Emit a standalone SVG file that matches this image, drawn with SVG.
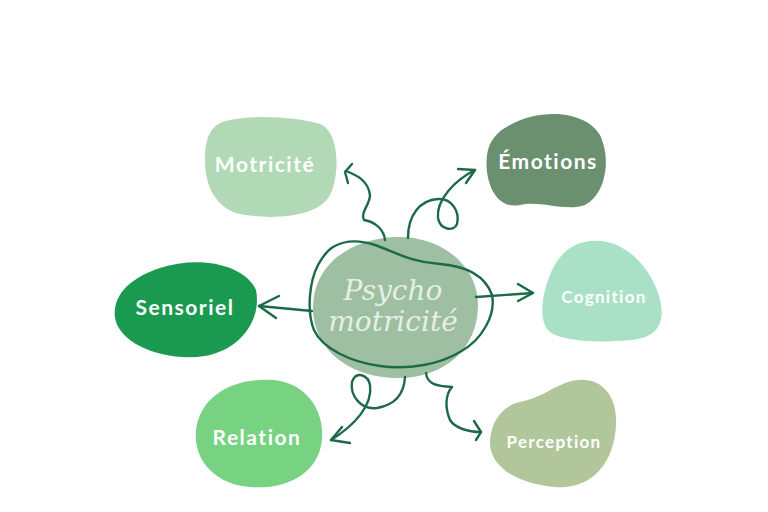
<svg xmlns="http://www.w3.org/2000/svg" width="768" height="512" viewBox="0 0 768 512">
<style>
.lbl{font-family:Lato,"Open Sans",sans-serif;font-weight:700;fill:#ffffff;text-anchor:middle;dominant-baseline:central}
.big{font-size:21px;letter-spacing:1.5px}
.sm{font-size:17px;letter-spacing:1.3px}
.ctr{font-family:"DejaVu Serif","Liberation Serif",serif;font-style:italic;font-weight:300;font-size:28px;fill:#e6efe4;text-anchor:middle;dominant-baseline:central}
.con{fill:none;stroke:#1c6a48;stroke-width:2.4;stroke-linecap:round;stroke-linejoin:round}
</style>
<rect width="768" height="512" fill="#ffffff"/>
<g id="motricite">
<path d="M230,120 C260,114 300,118 320,124 C340,132 340,175 330,195 C318,218 270,220 240,214 C215,208 205,185 205,160 C205,135 212,123 230,120 Z" fill="#b1d9b6"/>
<text class="lbl big" x="265" y="163">Motricité</text>
</g>
<g id="emotions">
<path d="M510,125 C540,108 585,110 600,135 C612,160 605,195 585,205 C565,212 540,200 520,205 C495,210 484,180 487,155 C489,140 498,131 510,125 Z" fill="#6a9070"/>
<text class="lbl big" x="548" y="160">Émotions</text>
</g>
<g id="sensoriel">
<path d="M160,268 C200,255 245,265 256,290 C262,320 240,350 205,356 C165,362 120,345 115,318 C112,295 130,278 160,268 Z" fill="#1a9a50"/>
<text class="lbl big" x="185" y="306">Sensoriel</text>
</g>
<g id="cognition">
<path d="M590,241 C620,238 645,260 657,290 C668,320 660,338 630,340 C600,343 565,342 550,332 C538,322 541,295 552,270 C562,250 575,243 590,241 Z" fill="#aae1c6"/>
<text class="lbl sm" x="604" y="296">Cognition</text>
</g>
<g id="relation">
<path d="M260,380 C300,376 325,405 322,440 C318,475 285,490 250,487 C215,484 193,460 196,430 C200,400 225,382 260,380 Z" fill="#77d281"/>
<text class="lbl big" x="257" y="436">Relation</text>
</g>
<g id="perception">
<path d="M520,402 C540,398 548,390 565,383 C595,372 618,390 616,425 C614,465 590,490 555,487 C515,484 488,465 490,440 C492,418 505,405 520,402 Z" fill="#b1c69b"/>
<text class="lbl sm" x="554" y="441">Perception</text>
</g>
<g id="center">
<path d="M395,237 C440,235 478,265 478,305 C478,348 445,378 398,378 C350,378 313,350 313,308 C313,265 350,239 395,237 Z" fill="#9ebfa1"/>
<path class="con" d="M333,247 C345,240 360,240 375,245 C395,252 410,262 440,264 C465,266 485,275 492,295 C496,315 482,340 460,352 C440,364 410,370 380,366 C350,362 322,348 314,330 C306,310 310,280 318,265 C323,256 328,250 333,247" stroke-width="2"/>
<text class="ctr" x="393" y="290">Psycho</text>
<text class="ctr" x="393" y="321">motricité</text>
</g>
<g id="connectors">
<path class="con" d="M385,240 C384,230 376,222 364,220 C360,212 370,205 370,195 C368,180 356,175 346,171"/>
<path class="con" d="M352,164 L345,172 L348,183"/>
<path class="con" d="M408,238 C408,215 420,200 438,199 C452,198 460,212 457,224 C454,232 440,230 438,218 C436,200 455,180 475,170"/>
<path class="con" d="M458,169 L475,170 L466,183"/>
<path class="con" d="M312,311 L259,306"/>
<path class="con" d="M279,296 L259,306 L276,318"/>
<path class="con" d="M476,297 L533,293"/>
<path class="con" d="M518,284 L533,293 L518,301"/>
<path class="con" d="M405,377 C404,395 395,405 377,408 C360,410 350,395 352,382 C356,370 368,375 370,385 C373,405 355,425 331,440"/>
<path class="con" d="M342,427 L331,440 L350,443"/>
<path class="con" d="M426,373 C427,385 438,386 452,387 C445,395 445,408 450,420 C455,428 468,432 481,432"/>
<path class="con" d="M474,421 L481,432 L476,440"/>
</g>
</svg>
